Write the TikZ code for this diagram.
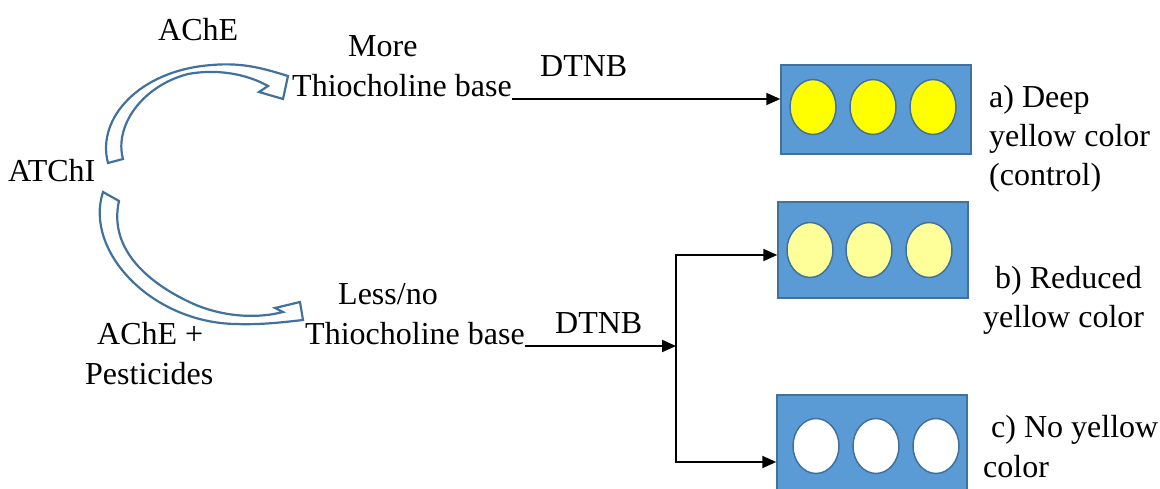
\documentclass[tikz,border=0pt]{standalone}
\usepackage{fontspec}
\setmainfont{Liberation Serif}
\usetikzlibrary{arrows.meta,shapes.geometric}
\definecolor{plate}{HTML}{5B9BD5}
\definecolor{plateedge}{HTML}{41719C}
\definecolor{deepyellow}{HTML}{FFFF00}
\definecolor{paleyellow}{HTML}{FFFF99}
\tikzset{
  lbl/.style={anchor=base west, inner sep=0pt, font=\fontsize{32}{40}\selectfont},
  plateshape/.style={draw=plateedge, fill=plate, line width=1.5pt, minimum width=190pt, inner sep=0pt},
  well/.style={ellipse, draw=plateedge, line width=1.5pt, minimum width=46pt, minimum height=55pt, inner sep=0pt},
  blockarrow/.style={draw=plateedge, fill=white, line width=2.2pt, line join=miter},
  conn/.style={line width=2pt, -{Triangle[length=14pt,width=12pt]}},
  plain/.style={line width=2pt}
}
\begin{document}
\begin{tikzpicture}[x=1pt,y=-1pt]
\useasboundingbox (0,0) rectangle (1160,489);

% texts
\node[lbl] (atchi) at (8,182) {ATChI};
\node[lbl] (ache) at (158,41) {AChE};
\node[lbl] (more) at (348,57) {More};
\node[lbl] (thioA) at (292,97) {Thiocholine base};
\node[lbl] (dtnbA) at (540,77) {DTNB};
\node[lbl] (acheP) at (97,344) {AChE +};
\node[lbl] (pest) at (85,384) {Pesticides};
\node[lbl] (less) at (338,305) {Less/no};
\node[lbl] (thioB) at (305,344) {Thiocholine base};
\node[lbl] (dtnbB) at (555,333) {DTNB};

\node[lbl] (la1) at (989,108) {a) Deep};
\node[lbl] (la2) at (989,147) {yellow color};
\node[lbl] (la3) at (989,186) {(control)};
\node[lbl] (lb1) at (995,288) {b) Reduced};
\node[lbl] (lb2) at (983,327) {yellow color};
\node[lbl] (lc1) at (991,437) {c) No yellow};
\node[lbl] (lc2) at (983,477) {color};

% plates
\node[plateshape, minimum height=89pt] (boxa) at (876,109.5) {};
\node[plateshape, minimum height=96pt] (boxb) at (873,250) {};
\node[plateshape, minimum height=105pt] (boxc) at (872,447.5) {};

\node[well, fill=deepyellow] (a1) at (813,107) {};
\node[well, fill=deepyellow] (a2) at (873,107) {};
\node[well, fill=deepyellow] (a3) at (933,107) {};
\node[well, fill=paleyellow] (b1) at (810,250) {};
\node[well, fill=paleyellow] (b2) at (869,250) {};
\node[well, fill=paleyellow] (b3) at (929,250) {};
\node[well, fill=white] (c1) at (816,446) {};
\node[well, fill=white] (c2) at (876,446) {};
\node[well, fill=white] (c3) at (936,446) {};

% curved block arrows
\draw[blockarrow] (108,163) .. controls (96,118) and (140,70) .. (212,65)
  .. controls (245,62) and (268,70) .. (288,76) -- (283,99) -- (259,92) -- (268,86)
  .. controls (245,73) and (215,69) .. (188,74)
  .. controls (142,86) and (114,126) .. (123,159) -- cycle;
\draw[blockarrow] (103,192) .. controls (84,250) and (150,322) .. (235,324)
  .. controls (262,325) and (285,322) .. (303,320) -- (300,302) -- (275,308) -- (283,312)
  .. controls (260,318) and (228,318) .. (196,305)
  .. controls (150,285) and (108,250) .. (119,201) -- cycle;

% connectors
\coordinate (j) at (676,346);
\coordinate (jtop) at (676,255);
\coordinate (jbot) at (676,462);
\draw[conn] ([yshift=-2pt]thioA.base east) -- ([yshift=-2pt]thioA.base east -| boxa.west);
\draw[conn] ([yshift=-2pt]thioB.base east) -- (j);
\draw[plain] (jtop) -- (jbot);
\draw[conn] ([xshift=-1pt]jtop) -- (jtop -| boxb.west);
\draw[conn] ([xshift=-1pt]jbot) -- (jbot -| boxc.west);
\end{tikzpicture}
\end{document}
